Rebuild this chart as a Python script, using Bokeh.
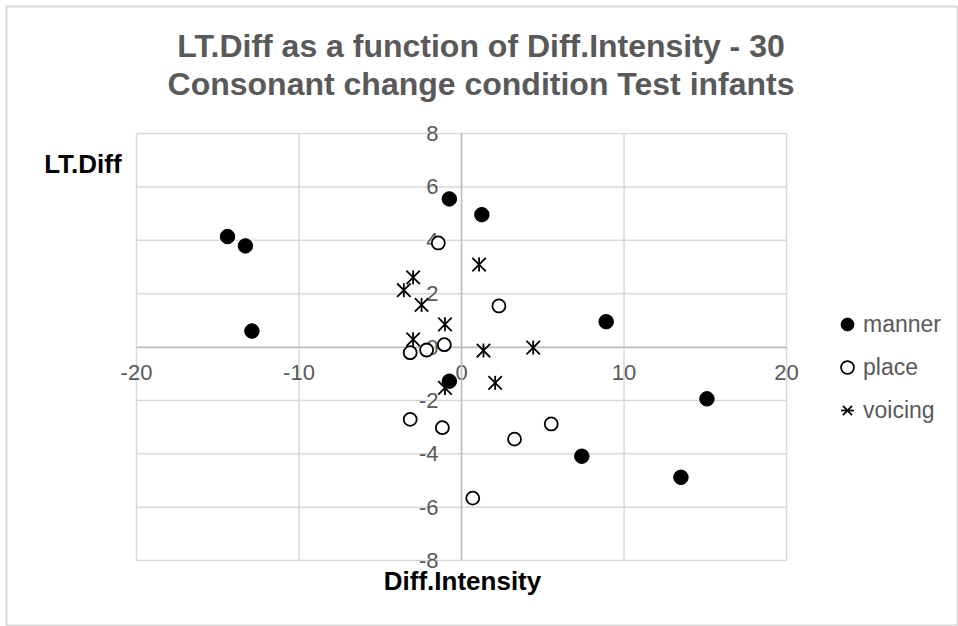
import numpy as np
from bokeh.plotting import figure
from bokeh.models import Label, Legend, LegendItem, FixedTicker, Range1d
from bokeh.embed import file_html
from bokeh.resources import INLINE

# ---- data ----
manner_x = [-14.4, -13.3, -12.9, -0.75, 1.25, -0.75, 8.9, 15.1, 7.4, 13.5]
manner_y = [4.14, 3.79, 0.60, 5.55, 4.96, -1.28, 0.95, -1.94, -4.09, -4.88]
place_x = [-1.43, 2.30, -3.16, -2.15, -1.06, -3.16, -1.18, 3.26, 5.52, 0.69]
place_y = [3.90, 1.54, -0.21, -0.11, 0.09, -2.71, -3.02, -3.45, -2.88, -5.66]
voicing_x = [-2.98, -3.55, -2.46, -1.02, -2.98, 1.08, 1.35, 4.41, 2.07, -1.02]
voicing_y = [2.61, 2.13, 1.58, 0.85, 0.29, 3.09, -0.13, -0.02, -1.34, -1.53]

x_ticks = [-20, -10, 0, 10, 20]
y_ticks = [-8, -6, -4, -2, 0, 2, 4, 6, 8]

title_lines = ["LT.Diff as a function of Diff.Intensity - 30",
               "Consonant change condition Test infants"]
x_title = "Diff.Intensity"
y_title = "LT.Diff"
series_names = ["manner", "place", "voicing"]

FONT = "Liberation Sans"
GRAY = "#595959"
GRID = "#D9D9D9"

p = figure(width=958, height=626, output_backend="svg", toolbar_location=None,
           x_range=Range1d(-28.0, 30.58), y_range=Range1d(-10.47, 12.76),
           min_border_left=6, min_border_top=6,
           min_border_right=0, min_border_bottom=0)
p.background_fill_color = "white"
p.border_fill_color = "white"
p.outline_line_color = GRID
p.outline_line_width = 2
p.grid.visible = False

# plot-area grid, bounded to the axis ranges
xmin, xmax = x_ticks[0], x_ticks[-1]
ymin, ymax = y_ticks[0], y_ticks[-1]
p.segment(x0=x_ticks, y0=[ymin] * len(x_ticks), x1=x_ticks, y1=[ymax] * len(x_ticks),
          line_color=GRID, line_width=1.5, level="underlay")
p.segment(x0=[xmin] * len(y_ticks), y0=y_ticks, x1=[xmax] * len(y_ticks), y1=y_ticks,
          line_color=GRID, line_width=1.5, level="underlay")

for ax, ticks in ((p.xaxis, x_ticks), (p.yaxis, y_ticks)):
    ax.ticker = FixedTicker(ticks=ticks)
    ax.fixed_location = 0
    ax.bounds = (ticks[0], ticks[-1])
    ax.axis_line_color = "#BFBFBF"
    ax.axis_line_width = 1.5
    ax.major_tick_line_color = None
    ax.minor_tick_line_color = None
    ax.major_label_text_color = GRAY
    ax.major_label_text_font = FONT
    ax.major_label_text_font_size = "22px"
    ax.major_label_overrides = {t: str(t) for t in ticks}
    ax.level = "underlay"
p.xaxis.major_label_standoff = 12
p.yaxis.major_label_standoff = 17

r_m = p.scatter(manner_x, manner_y, marker="circle", size=14.5,
                fill_color="black", line_color="black")
r_p = p.scatter(place_x, place_y, marker="circle", size=13,
                fill_color="white", line_color="black", line_width=1.8)
r_v1 = p.scatter(voicing_x, voicing_y, marker="x", size=19,
                 line_color="black", line_width=1.8)
r_v2 = p.scatter(voicing_x, voicing_y, marker="dash", size=14, angle=np.pi / 2,
                 line_color="black", line_width=1.8)

legend = Legend(items=[LegendItem(label=series_names[0], renderers=[r_m]),
                       LegendItem(label=series_names[1], renderers=[r_p]),
                       LegendItem(label=series_names[2], renderers=[r_v1, r_v2])],
                location=(825, 200), orientation="vertical",
                padding=0, margin=0, spacing=11,
                glyph_width=32, glyph_height=32, label_height=32,
                label_standoff=-10,
                label_text_font=FONT, label_text_font_size="23px",
                label_text_color=GRAY,
                border_line_color=None, background_fill_alpha=0)
p.add_layout(legend, "center")

# titles
for txt, yy in zip(title_lines, [11.28, 9.84]):
    p.add_layout(Label(x=1.2, y=yy, text=txt, text_align="center",
                       text_baseline="middle", text_font=FONT,
                       text_font_size="32px", text_font_style="bold",
                       text_color=GRAY))

p.add_layout(Label(x=-23.3, y=6.87, text=y_title, text_align="center",
                   text_baseline="middle", text_font=FONT,
                   text_font_size="26px", text_font_style="bold",
                   text_color="black"))
p.add_layout(Label(x=0.06, y=-8.77, text=x_title, text_align="center",
                   text_baseline="middle", text_font=FONT,
                   text_font_size="26px", text_font_style="bold",
                   text_color="black"))

open("out.html", "w").write(file_html(p, INLINE))
